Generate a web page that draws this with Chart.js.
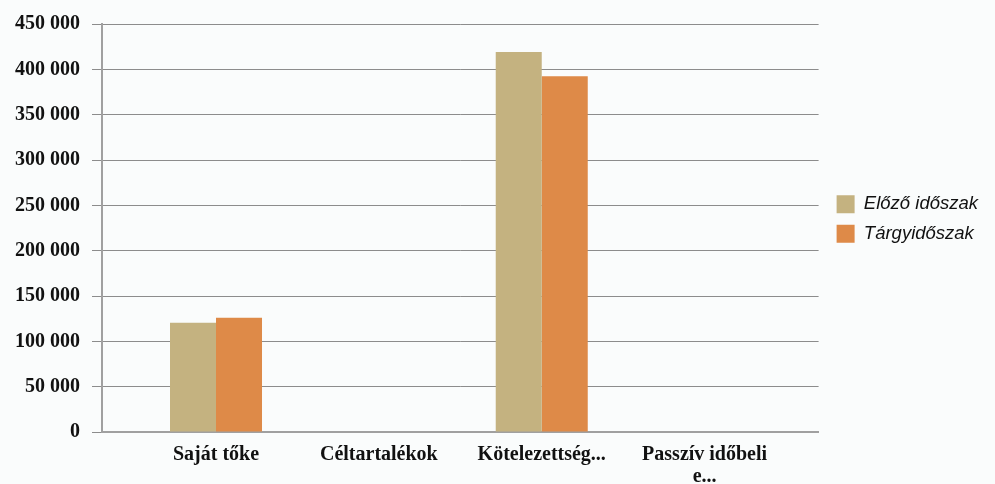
<!DOCTYPE html>
<html>
<head>
<meta charset="utf-8">
<script src="https://cdn.jsdelivr.net/npm/chart.js@4/dist/chart.umd.min.js"></script>
<style>
  html, body { margin:0; padding:0; background:#fafcfc; }
  #wrap { width:995px; height:484px; }
</style>
</head>
<body>
<div id="wrap"><canvas id="chart"></canvas></div>
<script>
// ═══════════════════════════════════════════════════════
//  Források — előző időszak vs. tárgyidőszak
// ═══════════════════════════════════════════════════════

const CATEGORIES = ["Saját tőke", "Céltartalékok", "Kötelezettség...", ["Passzív időbeli", "e..."]];
const PREVIOUS   = [120500, 0, 419000, 0];   // Előző időszak
const CURRENT    = [126000, 0, 392500, 0];   // Tárgyidőszak
const Y_TICKS    = [0, 50000, 100000, 150000, 200000, 250000, 300000, 350000, 400000, 450000];

const fmt = v => String(v).replace(/\B(?=(\d{3})+(?!\d))/g, " ");

// linear index axis so the category slots can sit where the original put them
const toPoints = arr => arr.map((v, i) => ({ x:i, y:v }));

// legend sits a bit above the middle of the plot and a little off the grid
const legendNudge = {
  id: "legendNudge",
  afterLayout(chart) {
    chart.legend.bottom -= 18;
    chart.legend.left   += 7;
  }
};

new Chart(document.getElementById("chart"), {
  type: "bar",
  data: {
    datasets: [
      { label:"Előző időszak", data: toPoints(PREVIOUS), backgroundColor:"#c4b280" },
      { label:"Tárgyidőszak",  data: toPoints(CURRENT),  backgroundColor:"#de8a48" },
    ]
  },
  plugins: [legendNudge],
  options: {
    responsive:true, maintainAspectRatio:false, animation:false,
    categoryPercentage:0.565, barPercentage:1,
    layout: { padding:{ top:18, right:14, left:0, bottom:0 } },
    plugins: {
      tooltip:{ enabled:false },
      legend: {
        position:"right", fullSize:false,
        labels: {
          boxWidth:18, boxHeight:18, padding:11, color:"#111",
          font:{ family:"'Liberation Sans', Arial, sans-serif", size:18.5, style:"italic" }
        }
      }
    },
    scales: {
      x: {
        type:"linear", min:-0.7, max:3.7, offset:false,
        afterBuildTicks: s => { s.ticks = CATEGORIES.map((c, i) => ({ value:i })); },
        grid:{ display:false },
        border:{ display:true, color:"#a0a0a0", width:2 },
        afterFit: s => { s.height = 52; },
        ticks: {
          autoSkip:false, maxRotation:0, padding:4, color:"#111",
          font:{ family:"'Liberation Serif', 'Times New Roman', serif", size:20, weight:"bold", lineHeight:1.1 },
          callback: v => CATEGORIES[v] || ""
        }
      },
      y: {
        min:0, max:450000,
        afterBuildTicks: s => { s.ticks = Y_TICKS.map(v => ({ value:v })); },
        afterFit: s => { s.width = 102; },
        grid:{ color:"#8c8c8c", lineWidth:1, tickLength:10 },
        border:{ display:true, color:"#a0a0a0", width:2 },
        ticks: {
          padding:12, color:"#111",
          font:{ family:"'Liberation Serif', 'Times New Roman', serif", size:20, weight:"bold" },
          callback: v => fmt(v)
        }
      }
    }
  }
});
</script>
</body>
</html>
